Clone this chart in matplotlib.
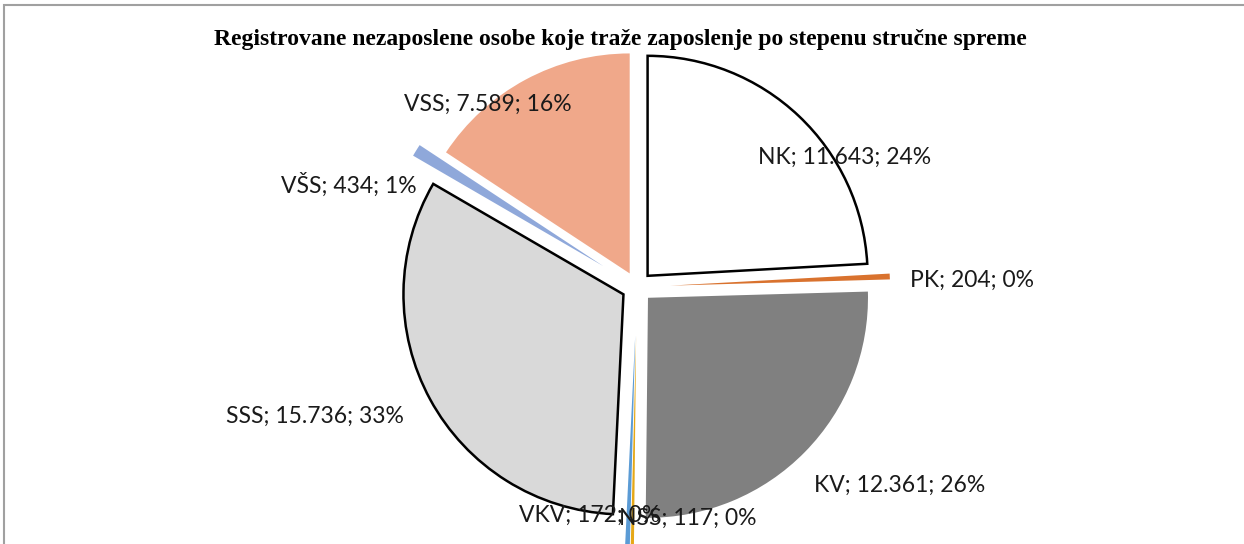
import numpy as np
import matplotlib.pyplot as plt
from matplotlib.patches import Rectangle

###############################################################################
TITLE = 'Registrovane nezaposlene osobe koje traže zaposlenje po stepenu stručne spreme'
labels = ['NK', 'PK', 'KV', 'NSS', 'VKV', 'SSS', 'VŠS', 'VSS']
values = [11643, 204, 12361, 117, 172, 15736, 434, 7589]
colors = ['#FFFFFF', '#D9722E', '#808080', '#E6A817', '#5B9BD5', '#D9D9D9', '#8FA8DA', '#F0A88A']
explode = [0.07, 0.15, 0.07, 0.22, 0.22, 0.07, 0.18, 0.07]
edged = ['NK', 'SSS']
# label centres in pixels (x from left, y from top)
label_pos = [(845, 157), (972, 280), (900, 485), (688, 518), (590, 515),
             (315, 416), (349, 185), (488, 104)]
###############################################################################
W, H = 1244, 544
CX, CY, R = 637, 287, 220

fig = plt.figure(figsize=(W / 100, H / 100), dpi=100)
ax = fig.add_axes([0, 0, 1, 1])

wedges, _ = ax.pie(values, colors=colors, explode=explode, startangle=90,
                   counterclock=False, radius=1.0, center=(0, 0), frame=True)
ax.set_xlim(-CX / R, (W - CX) / R)
ax.set_ylim(-(H - CY) / R, CY / R)
ax.set_aspect('auto')
ax.axis('off')

for w, lab in zip(wedges, labels):
    if lab in edged:
        w.set_edgecolor('black')
        w.set_linewidth(1.8)
    else:
        w.set_linewidth(0)

total = sum(values)
for lab, val, (px, py) in zip(labels, values, label_pos):
    pct = round(100 * val / total)
    txt = '%s; %s; %d%%' % (lab, format(val, ',').replace(',', '.'), pct)
    x = (px - CX) / R
    y = (CY - py) / R
    ax.text(x, y, txt, ha='center', va='center', fontsize=16.5,
            family=['Lato', 'DejaVu Sans'], color='#1a1a1a')

fig.text(620 / W, 1 - 40 / H, TITLE, ha='center', va='center', fontsize=17,
         fontweight='bold', family='Liberation Serif')

# chart frame (only left and top visible)
fig.patches.append(Rectangle((4 / W, -0.1), 1.2, 1 - 5 / H + 0.1, transform=fig.transFigure,
                             fill=False, edgecolor='#A0A0A0', linewidth=1.5))

plt.savefig('out.png', dpi=100)
